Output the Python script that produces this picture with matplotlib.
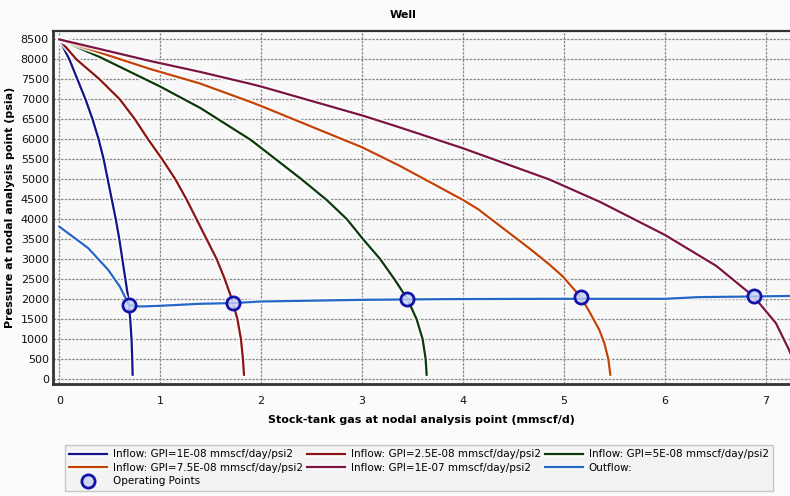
import matplotlib
matplotlib.use("Agg")
import matplotlib.pyplot as plt
import matplotlib.patheffects as pe

# ---------------- data ----------------
q1 = [0.0, 0.10, 0.18, 0.26, 0.33, 0.39, 0.44, 0.48, 0.52, 0.56, 0.595, 0.625, 0.655, 0.685, 0.703, 0.716, 0.723, 0.727]
p1 = [8500, 8000, 7500, 7000, 6500, 6000, 5500, 5000, 4500, 4000, 3500, 3000, 2500, 2000, 1500, 1000, 500, 107]

q2 = [0.0, 0.17, 0.40, 0.60, 0.75, 0.88, 1.02, 1.15, 1.26, 1.36, 1.46, 1.56, 1.64, 1.71, 1.765, 1.80, 1.82, 1.83]
p2 = [8500, 8000, 7500, 7000, 6500, 6000, 5500, 5000, 4500, 4000, 3500, 3000, 2500, 2000, 1500, 1000, 500, 107]

q3 = [0.0, 0.40, 1.0, 1.40, 1.90, 2.40, 2.65, 2.85, 3.01, 3.18, 3.32, 3.45, 3.54, 3.60, 3.63, 3.64]
p3 = [8500, 8060, 7320, 6780, 5980, 5000, 4480, 4000, 3500, 3000, 2500, 2000, 1500, 1000, 500, 107]

q4 = [0.0, 0.90, 1.39, 1.89, 2.0, 3.0, 3.37, 4.0, 4.15, 4.677, 4.86, 4.99, 5.17, 5.26, 5.35, 5.40, 5.44, 5.46]
p4 = [8500, 7760, 7400, 6940, 6832, 5800, 5340, 4482, 4250, 3232, 2857, 2565, 2040, 1650, 1232, 900, 500, 107]

q5 = [0.0, 0.90, 1.39, 1.89, 2.0, 3.01, 3.37, 4.0, 4.86, 5.36, 6.0, 6.51, 6.88, 7.10, 7.23, 7.32]
p5 = [8500, 7960, 7690, 7390, 7320, 6590, 6300, 5775, 4990, 4430, 3607, 2830, 2065, 1400, 732, 200]

q_out = [0.0, 0.287, 0.485, 0.60, 0.69, 0.80, 1.0, 1.39, 1.72, 2.0, 3.01, 3.87, 4.86, 6.0, 6.34, 6.88, 7.3]
p_out = [3815, 3275, 2732, 2315, 1850, 1815, 1832, 1882, 1900, 1940, 1982, 2000, 2007, 2007, 2050, 2065, 2082]

op_q = [0.69, 1.72, 3.45, 5.17, 6.88]
op_p = [1850, 1900, 1995, 2040, 2065]

labels = ["Inflow: GPI=1E-08 mmscf/day/psi2",
          "Inflow: GPI=2.5E-08 mmscf/day/psi2",
          "Inflow: GPI=5E-08 mmscf/day/psi2",
          "Inflow: GPI=7.5E-08 mmscf/day/psi2",
          "Inflow: GPI=1E-07 mmscf/day/psi2",
          "Outflow:",
          "Operating Points"]

xticks = [0, 1, 2, 3, 4, 5, 6, 7]
yticks = list(range(0, 8501, 500))

colors = ["#14148c", "#8c1414", "#0c3a0c", "#c44408", "#7c1444", "#2566c8"]

# ---------------- figure ----------------
plt.rcParams['font.family'] = ['DejaVu Sans']
fig = plt.figure(figsize=(7.9, 4.96), dpi=100, facecolor="#fbfbfb")
ax = fig.add_axes([53/790, 1-384/496, 1-53/790, (384-31)/496])
ax.set_facecolor("#f8f8f8")

halo = [pe.Stroke(linewidth=4.0, foreground="white", alpha=0.8), pe.Normal()]

series = [(q1, p1), (q2, p2), (q3, p3), (q4, p4), (q5, p5), (q_out, p_out)]
handles = []
for (q, p), c, lab in zip(series, colors, labels[:6]):
    h, = ax.plot(q, p, color=c, lw=1.6, label=lab, path_effects=halo, zorder=3,
                 solid_joinstyle="round")
    handles.append(h)

hop, = ax.plot(op_q, op_p, linestyle="none", marker="o", markersize=9.5,
               markeredgewidth=2.0, markeredgecolor="#1212a8",
               markerfacecolor=(0.78, 0.82, 0.96, 0.8), label=labels[6], zorder=5)
handles.append(hop)

ax.set_xlim(-0.062, 7.24)
ax.set_ylim(-125, 8710)
ax.set_xticks(xticks)
ax.set_yticks(yticks)
ax.grid(True, color="#8a8a8a", linestyle=(0, (2, 1)), linewidth=0.9)
ax.set_axisbelow(True)
ax.tick_params(axis='both', length=0, labelsize=8, colors="#111111")
ax.tick_params(axis='x', pad=9)
ax.tick_params(axis='y', pad=3)

for s in ["left", "bottom"]:
    ax.spines[s].set_linewidth(2.0)
    ax.spines[s].set_color("#333333")
ax.spines["top"].set_linewidth(1.6)
ax.spines["top"].set_color("#333333")
ax.spines["right"].set_visible(False)

ax.set_xlabel("Stock-tank gas at nodal analysis point (mmscf/d)", fontsize=8,
              fontweight="bold", labelpad=6)
ax.set_ylabel("Pressure at nodal analysis point (psia)", fontsize=8,
              fontweight="bold", labelpad=4)
fig.text(403/790, 1-15/496, "Well", fontsize=8, fontweight="bold",
         ha="center", va="center")

order = [0, 3, 6, 1, 4, 2, 5]
leg = fig.legend([handles[i] for i in order], [labels[i] for i in order],
                 ncol=3, loc="upper left", bbox_to_anchor=(65/790, 1-445/496),
                 fontsize=7.5, frameon=True, fancybox=False, edgecolor="#bbbbbb",
                 facecolor="#f2f2f2", handlelength=3.6, handletextpad=0.6,
                 columnspacing=0.4, borderpad=0.4, labelspacing=0.35,
                 borderaxespad=0)
leg.get_frame().set_linewidth(1.0)

fig.savefig("out.png", dpi=100, facecolor=fig.get_facecolor())
